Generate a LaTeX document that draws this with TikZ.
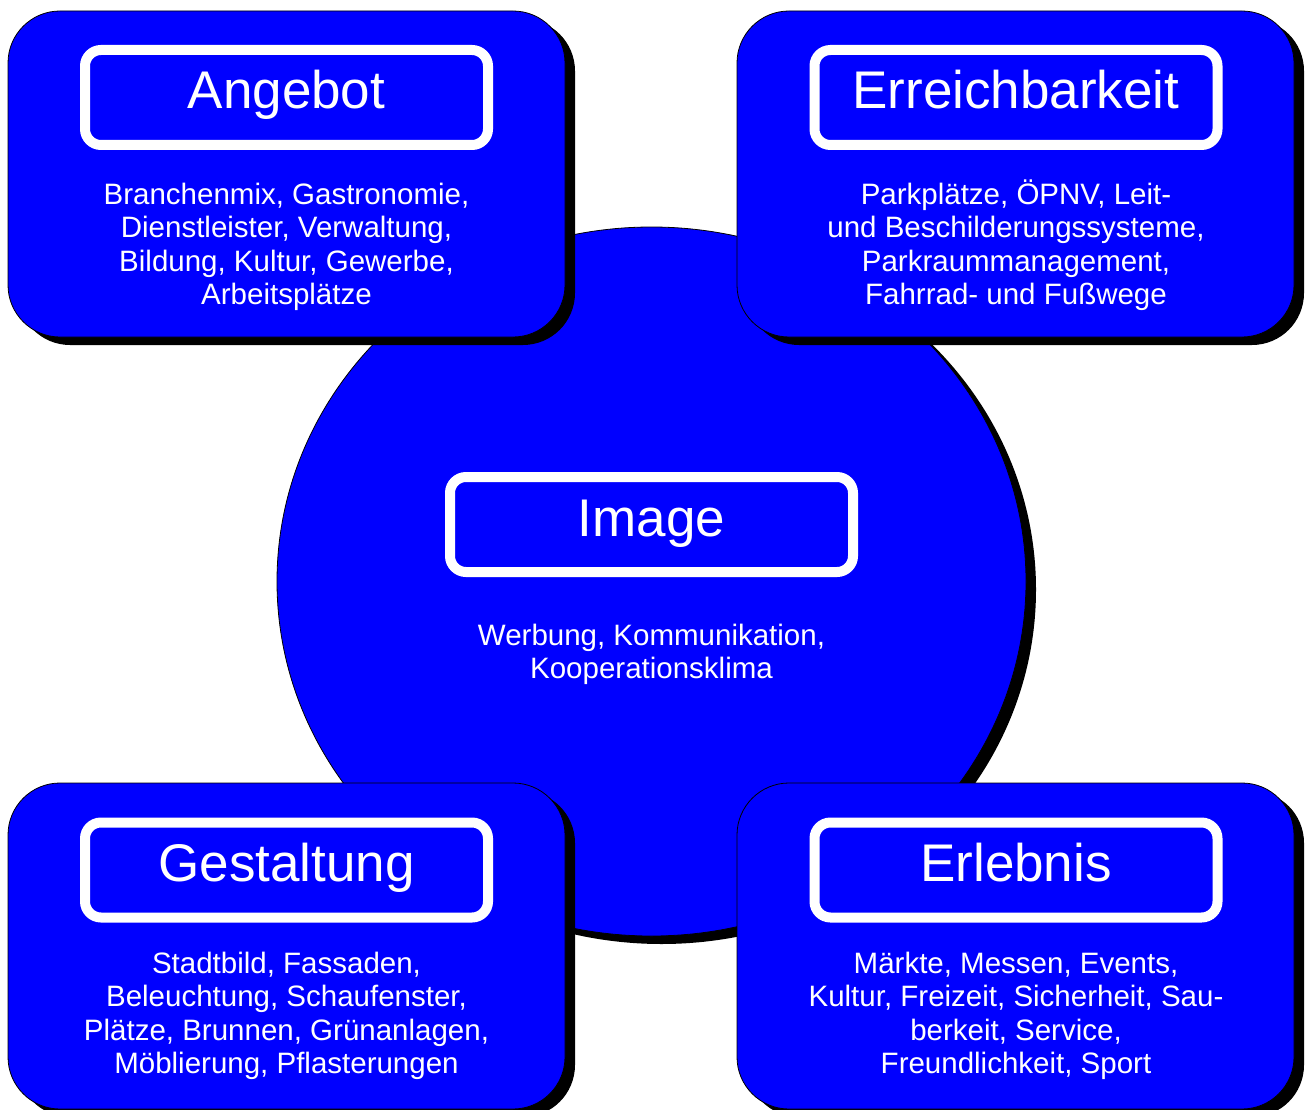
\documentclass[tikz,border=0pt]{standalone}
\usepackage{fontspec}
\setmainfont{Liberation Sans}
\usetikzlibrary{shapes.geometric,shadows}
\definecolor{panelblue}{RGB}{0,0,255}
\tikzset{
  blueshadow/.style={drop shadow={shadow xshift=10pt, shadow yshift=-8pt, opacity=1, fill=black}},
  panel/.style={rectangle, rounded corners=52pt, fill=panelblue, draw=black, line width=0.8pt,
    minimum width=557pt, minimum height=326pt, inner sep=0pt, blueshadow},
  hub/.style={ellipse, fill=panelblue, draw=black, line width=0.8pt,
    minimum width=749pt, minimum height=709pt, inner sep=0pt, blueshadow},
  titlebox/.style={rectangle, rounded corners=16pt, draw=white, line width=10pt,
    minimum width=403pt, minimum height=95pt, inner sep=0pt, text=white,
    font=\fontsize{53}{60}\selectfont, text height=39pt, text depth=16pt},
  bodytext/.style={align=center, text=white, inner sep=0pt, anchor=base,
    font=\fontsize{29.5}{33.5}\selectfont}
}
\begin{document}
\begin{tikzpicture}[x=1pt,y=-1pt]
\useasboundingbox (0,0) rectangle (1306,1110);
% central ellipse
\node[hub] (hub) at (651.5,581.5) {};
% four panels
\node[panel] (pA) at (286.5,174) {};
\node[panel] (pB) at (1015.5,174) {};
\node[panel] (pC) at (286.5,946) {};
\node[panel] (pD) at (1015.5,946) {};
% titles
\node[titlebox] (tA) at (286.5,97.5) {Angebot};
\node[titlebox] (tB) at (1016,97.5) {Erreichbarkeit};
\node[titlebox] (tI) at (651.5,524.5) {Image};
\node[titlebox] (tC) at (286.5,870) {Gestaltung};
\node[titlebox] (tD) at (1016,870) {Erlebnis};
% body texts (anchor = baseline of last line)
\node[bodytext] (bA) at (286.5,304.5) {Branchenmix, Gastronomie,\\Dienstleister, Verwaltung,\\Bildung, Kultur, Gewerbe,\\Arbeitsplätze};
\node[bodytext] (bB) at (1016,304.5) {Parkplätze, ÖPNV, Leit-\\und Beschilderungssysteme,\\Parkraummanagement,\\Fahrrad- und Fußwege};
\node[bodytext] (bI) at (651.5,678.5) {Werbung, Kommunikation,\\Kooperationsklima};
\node[bodytext] (bC) at (286.5,1073.5) {Stadtbild, Fassaden,\\Beleuchtung, Schaufenster,\\Plätze, Brunnen, Grünanlagen,\\Möblierung, Pflasterungen};
\node[bodytext] (bD) at (1016,1073.5) {Märkte, Messen, Events,\\Kultur, Freizeit, Sicherheit, Sau-\\berkeit, Service,\\Freundlichkeit, Sport};
\end{tikzpicture}
\end{document}
